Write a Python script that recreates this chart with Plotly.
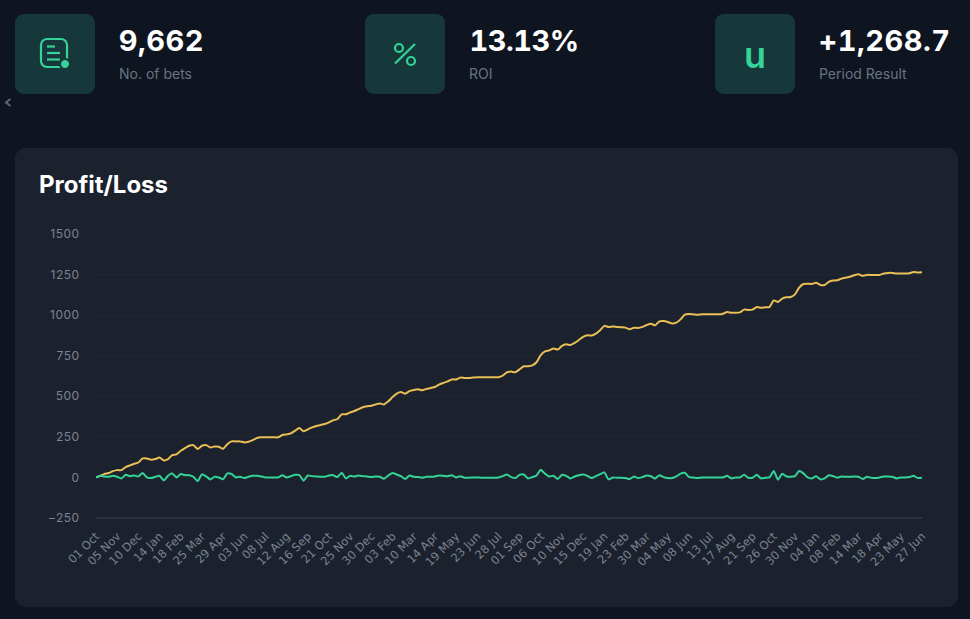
import plotly.graph_objects as go

tick_labels = ["01 Oct","05 Nov","10 Dec","14 Jan","18 Feb","25 Mar","29 Apr","03 Jun","08 Jul","12 Aug",
               "16 Sep","21 Oct","25 Nov","30 Dec","03 Feb","10 Mar","14 Apr","19 May","23 Jun","28 Jul",
               "01 Sep","06 Oct","10 Nov","15 Dec","19 Jan","23 Feb","30 Mar","04 May","08 Jun","13 Jul",
               "17 Aug","21 Sep","26 Oct","30 Nov","04 Jan","08 Feb","14 Mar","18 Apr","23 May","27 Jun"]

cumulative = [0,10,21,27,39,45,45,64,74,84,92,117,117,109,113,123,105,113,138,142,
              164,181,195,199,175,195,199,185,191,189,177,205,222,222,222,216,220,230,243,247,
              247,247,247,247,261,265,271,288,304,284,296,308,317,323,329,339,352,360,389,389,
              401,409,421,432,438,442,450,456,450,469,495,516,526,516,532,539,543,537,545,551,
              557,572,582,592,604,604,615,613,613,615,617,617,617,617,617,617,627,648,652,648,
              666,685,685,691,710,753,777,783,794,788,810,820,816,829,847,866,876,874,886,907,
              934,927,930,927,925,923,913,923,921,928,939,947,937,962,964,958,949,954,974,1003,
              1007,1005,1003,1005,1005,1005,1005,1005,1009,1019,1015,1015,1017,1034,1032,1034,1050,1046,1048,1050,
              1091,1081,1102,1110,1112,1128,1170,1192,1194,1192,1200,1186,1186,1205,1213,1215,1225,1231,1237,1246,
              1252,1242,1248,1248,1248,1248,1256,1260,1260,1256,1256,1256,1258,1266,1262,1264]

period = [0,10,6,4,10,4,-6,16,8,12,6,27,0,-4,4,10,-18,10,25,0,
          21,14,14,4,-23,19,6,-12,4,0,-12,25,21,0,4,-4,4,10,10,6,
          0,0,0,0,14,0,8,16,14,-20,12,8,6,4,4,12,14,2,29,-6,
          10,6,12,8,6,2,6,4,-8,12,27,18,8,-10,12,4,2,-2,4,4,
          6,12,10,8,14,0,8,-2,-2,0,0,-2,-2,-2,-2,0,8,18,2,-4,
          16,18,-6,2,12,47,23,6,10,-10,16,10,-6,6,14,18,10,-4,8,20,
          31,-12,0,-2,-2,-4,-10,6,-4,2,12,7,-7,14,2,-4,-4,6,23,29,
          2,0,-4,0,0,0,0,0,0,10,-6,0,0,16,-2,-2,16,-6,-2,0,
          39,-14,23,6,4,8,39,25,0,-6,8,-12,-6,14,8,-2,6,4,4,6,
          4,-10,4,-2,-4,0,6,6,4,-6,0,0,2,10,-4,-2]

y_ticks = [-250,0,250,500,750,1000,1250,1500]
x_index = list(range(len(cumulative)))
tick_step = 5

W, H = 970, 619
L, R, T, B = 96, 922, 234, 518
PAGE = "#0e1520"; CARD = "#1b222d"; TILE = "#17383a"; GREEN = "#34d399"; YELLOW = "#e9bf56"
MUTED = "#6b7280"; TICK = "#7c8390"; FONT = "Inter"

def px(x): return (x - L) / (R - L)
def py(y): return (B - y) / (B - T)

def rrect(x0, y0, x1, y1, r):
    k = 0.45 * r
    pts = [("M", x0 + r, y0), ("L", x1 - r, y0), ("C", x1 - k, y0, x1, y0 + k, x1, y0 + r),
           ("L", x1, y1 - r), ("C", x1, y1 - k, x1 - k, y1, x1 - r, y1),
           ("L", x0 + r, y1), ("C", x0 + k, y1, x0, y1 - k, x0, y1 - r),
           ("L", x0, y0 + r), ("C", x0, y0 + k, x0 + k, y0, x0 + r, y0)]
    out = []
    for p in pts:
        c = p[1:]
        out.append(p[0] + " ".join(f"{px(c[i]):.5f},{py(c[i+1]):.5f}" for i in range(0, len(c), 2)))
    return " ".join(out) + " Z"

def poly(points):
    return "M" + " L".join(f"{px(a):.5f},{py(b):.5f}" for a, b in points)

shapes = []
def fill(path, color):
    shapes.append(dict(type="path", xref="paper", yref="paper", path=path, fillcolor=color,
                       line=dict(width=0), layer="below"))
def stroke(path, color, w):
    shapes.append(dict(type="path", xref="paper", yref="paper", path=path,
                       line=dict(color=color, width=w), layer="below"))

fill(rrect(15, 148, 958, 607, 11), CARD)
for x0 in (15, 365, 715):
    fill(rrect(x0, 14, x0 + 80, 94, 9), TILE)

# document icon
stroke(rrect(41, 39, 67, 67, 6), GREEN, 2.2)
for a, b, y in ((47, 55, 46.5), (47, 60, 53), (47, 60, 59.5)):
    stroke(poly([(a, y), (b, y)]), GREEN, 2.2)
fill(rrect(59, 58, 71, 70, 6), TILE)
fill(rrect(61, 60, 69, 68, 4), GREEN)
# percent icon
stroke(poly([(395, 63.5), (415, 44)]), GREEN, 2.2)
stroke(rrect(395, 44, 403, 52, 4), GREEN, 2.2)
stroke(rrect(407, 57, 415, 65, 4), GREEN, 2.2)
# back chevron
stroke(poly([(10.5, 99), (6, 102.5), (10.5, 106)]), "#5e6672", 2)

annotations = []
def text(x, y, s, size, color, weight=400, anchor="left"):
    annotations.append(dict(xref="paper", yref="paper", x=px(x), y=py(y), text=s, showarrow=False,
                            xanchor=anchor, yanchor="middle", borderpad=0,
                            font=dict(family=FONT, size=size, color=color, weight=weight)))

text(161, 41, "9,662", 29, "#ffffff", 700, "center")
text(118, 73, "No. of bets", 14, MUTED)
text(524, 41, "13.13%", 29, "#ffffff", 700, "center")
text(468, 73, "ROI", 14, MUTED)
text(884.5, 41, "+1,268.7", 29, "#ffffff", 700, "center")
text(818, 73, "Period Result", 14, MUTED)
text(755, 55, "u", 36, GREEN, 600, "center")
text(38, 185, "Profit/Loss", 24, "#ffffff", 700)

fig = go.Figure()
fig.add_trace(go.Scatter(x=x_index, y=cumulative, mode="lines", name="Cumulative",
                         line=dict(color=YELLOW, width=2, shape="spline", smoothing=0.5)))
fig.add_trace(go.Scatter(x=x_index, y=period, mode="lines", name="Period",
                         line=dict(color=GREEN, width=2, shape="spline", smoothing=0.5)))

fig.update_layout(
    width=W, height=H, autosize=False, showlegend=False,
    margin=dict(l=L, r=W - R, t=T, b=H - B, pad=0),
    paper_bgcolor=PAGE, plot_bgcolor="rgba(0,0,0,0)",
    shapes=shapes, annotations=annotations, hovermode=False,
    font=dict(family=FONT),
    xaxis=dict(range=[0, len(x_index) - 1], tickmode="array",
               tickvals=x_index[::tick_step], ticktext=tick_labels, tickangle=-45,
               showgrid=False, zeroline=False, showline=False, ticks="outside", ticklen=6,
               tickcolor="rgba(0,0,0,0)", tickfont=dict(size=11.5, color=TICK, family="DejaVu Sans")),
    yaxis=dict(range=[-250, 1500], tickmode="array", tickvals=y_ticks,
               ticktext=["\u2212250"] + [str(v) for v in y_ticks[1:]],
               gridcolor="#212833", gridwidth=1, zeroline=False, showline=False,
               ticks="outside", ticklen=13, tickcolor="rgba(0,0,0,0)",
               tickfont=dict(size=12, color=TICK, family=FONT)),
)
fig.add_shape(type="line", xref="paper", yref="paper", x0=0, x1=1, y0=0, y1=0,
              line=dict(color="#3a414c", width=1))

post = """
document.body.style.margin='0';document.body.style.background='%s';document.body.style.overflow='hidden';
document.querySelectorAll('.annotation-text').forEach(function(t){
  if (/^[+0-9]/.test(t.textContent)) {
    t.style.fontVariantNumeric='tabular-nums';
    t.style.letterSpacing = t.textContent.indexOf('%%') >= 0 ? '-0.5px' : '0.5px';
  }
});
document.querySelectorAll('.ytick text').forEach(function(t){ t.style.letterSpacing='0.5px'; });
""" % PAGE
fig.write_html("out.html", post_script=post, config={"displayModeBar": False})
